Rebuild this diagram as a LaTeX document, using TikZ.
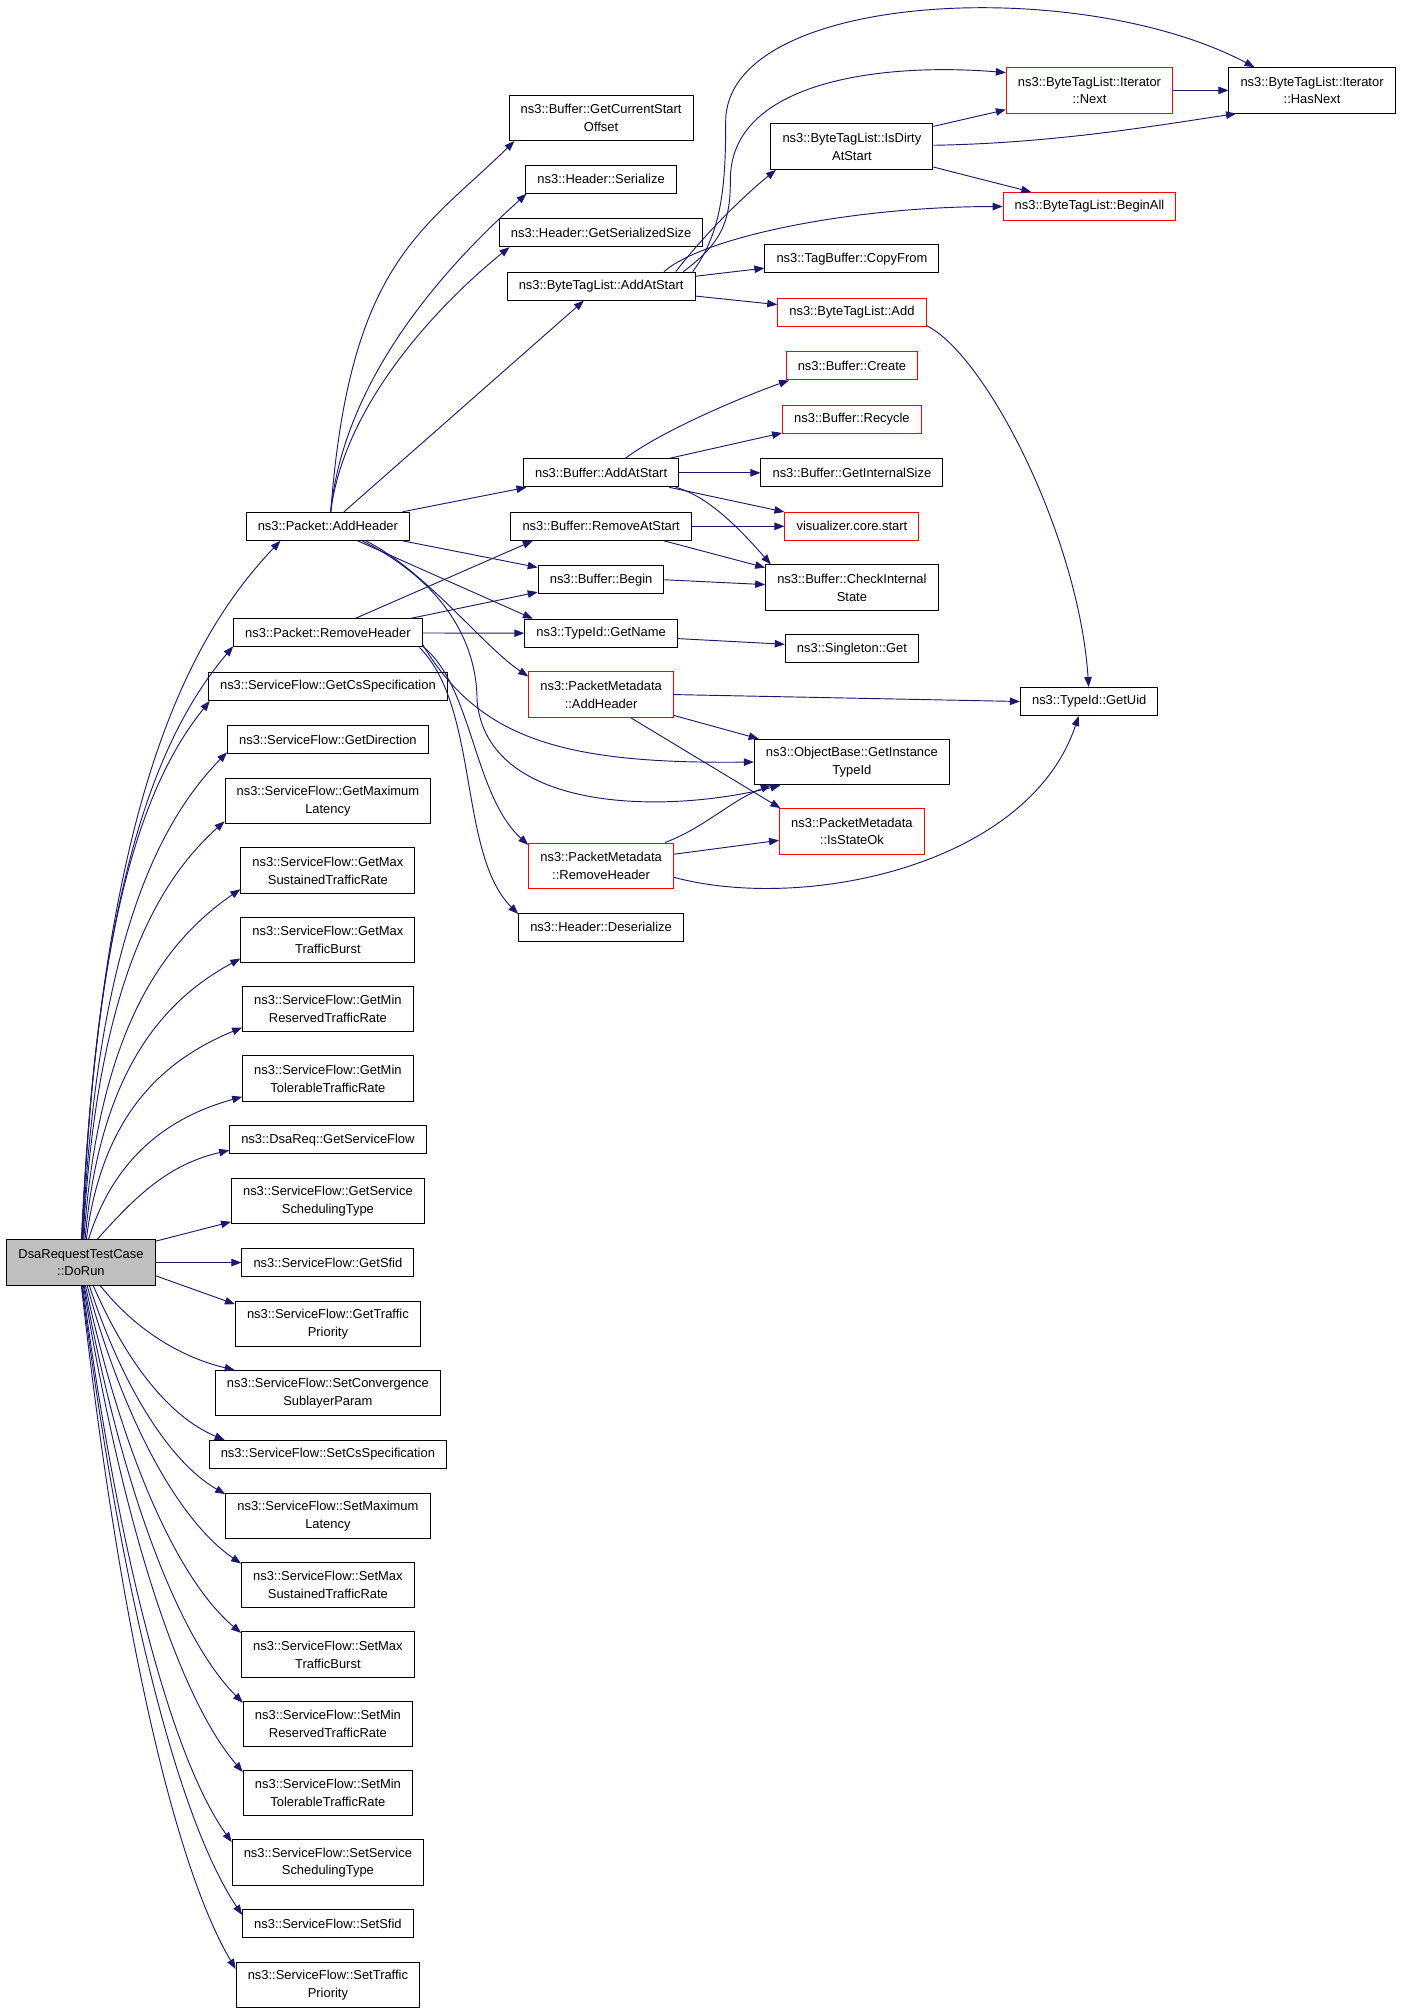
\documentclass[tikz,border=0pt]{standalone}
\usepackage{fontspec}
\setmainfont{Liberation Sans}
\usetikzlibrary{arrows.meta}
\definecolor{edgeblue}{HTML}{191970}
\definecolor{trunc}{HTML}{FF0000}
\definecolor{rootgray}{HTML}{BFBFBF}
\newcommand{\fnsize}{\fontsize{9.7pt}{13.4pt}\selectfont}
\begin{document}
\begin{tikzpicture}[x=0.75pt,y=-0.75pt,node distance=52pt,>={Triangle[length=7.5pt,width=5.6pt]}]
	\tikzstyle{fn} = [draw,rectangle,line width=0.75pt,inner xsep=8.7pt,inner ysep=2pt,minimum height=21pt,align=center,font=\fnsize]
	\tikzstyle{fn2} = [fn,minimum height=34.1pt]
	\tikzstyle{cut} = [draw=trunc]
	\tikzstyle{root} = [fill=rootgray]
	\tikzstyle{call} = [->,draw=edgeblue,line width=0.7pt]
	\useasboundingbox (0,0) rectangle (1403,2013);

	% first column: what DoRun calls
	\node (pah) [fn] at (327.9,526.3) {ns3::Packet::AddHeader};
	\node (prh) [fn,below of=pah,node distance=80pt] {ns3::Packet::RemoveHeader};
	\node (getcs) [fn,below of=prh,node distance=40.1pt] {ns3::ServiceFlow::GetCsSpecification};
	\node (getdir) [fn,below of=getcs,node distance=40.1pt] {ns3::ServiceFlow::GetDirection};
	\node (getmaxlat) [fn2,below of=getdir,node distance=46pt] {ns3::ServiceFlow::GetMaximum\\Latency};
	\node (getmaxsus) [fn2,below of=getmaxlat] {ns3::ServiceFlow::GetMax\\SustainedTrafficRate};
	\node (getmaxburst) [fn2,below of=getmaxsus] {ns3::ServiceFlow::GetMax\\TrafficBurst};
	\node (getminres) [fn2,below of=getmaxburst] {ns3::ServiceFlow::GetMin\\ReservedTrafficRate};
	\node (getmintol) [fn2,below of=getminres] {ns3::ServiceFlow::GetMin\\TolerableTrafficRate};
	\node (getsf) [fn,below of=getmintol,node distance=46pt] {ns3::DsaReq::GetServiceFlow};
	\node (getsched) [fn2,below of=getsf,node distance=46pt] {ns3::ServiceFlow::GetService\\SchedulingType};
	\node (getsfid) [fn,below of=getsched,node distance=46pt] {ns3::ServiceFlow::GetSfid};
	\node (gettp) [fn2,below of=getsfid,node distance=46pt] {ns3::ServiceFlow::GetTraffic\\Priority};
	\node (setconv) [fn2,below of=gettp] {ns3::ServiceFlow::SetConvergence\\SublayerParam};
	\node (setcs) [fn,below of=setconv,node distance=46pt] {ns3::ServiceFlow::SetCsSpecification};
	\node (setmaxlat) [fn2,below of=setcs,node distance=46pt] {ns3::ServiceFlow::SetMaximum\\Latency};
	\node (setmaxsus) [fn2,below of=setmaxlat] {ns3::ServiceFlow::SetMax\\SustainedTrafficRate};
	\node (setburst) [fn2,below of=setmaxsus] {ns3::ServiceFlow::SetMax\\TrafficBurst};
	\node (setminres) [fn2,below of=setburst] {ns3::ServiceFlow::SetMin\\ReservedTrafficRate};
	\node (setmintol) [fn2,below of=setminres] {ns3::ServiceFlow::SetMin\\TolerableTrafficRate};
	\node (setsched) [fn2,below of=setmintol] {ns3::ServiceFlow::SetService\\SchedulingType};
	\node (setsfid) [fn,below of=setsched,node distance=46pt] {ns3::ServiceFlow::SetSfid};
	\node (settp) [fn2,below of=setsfid,node distance=46pt] {ns3::ServiceFlow::SetTraffic\\Priority};
	\node (dr) [fn2,root,left of=getsfid,node distance=185.2pt] {DsaRequestTestCase\\::DoRun};

	% second column
	\node (rmas) [fn,right of=pah,node distance=204.9pt] {ns3::Buffer::RemoveAtStart};
	\node (baas) [fn,above of=rmas,node distance=40.1pt] {ns3::Buffer::AddAtStart};
	\node (begin) [fn,below of=rmas,node distance=40.1pt] {ns3::Buffer::Begin};
	\node (gn) [fn,below of=begin,node distance=40.1pt] {ns3::TypeId::GetName};
	\node (pmah) [fn2,cut,below of=gn,node distance=46pt] {ns3::PacketMetadata\\::AddHeader};
	\node (pmrh) [fn2,cut,below of=pmah,node distance=128.4pt] {ns3::PacketMetadata\\::RemoveHeader};
	\node (des) [fn,below of=pmrh,node distance=46pt] {ns3::Header::Deserialize};
	\node (btlaas) [fn,above of=baas,node distance=140pt] {ns3::ByteTagList::AddAtStart};
	\node (gss) [fn,above of=btlaas,node distance=40.1pt] {ns3::Header::GetSerializedSize};
	\node (ser) [fn,above of=gss,node distance=40.1pt] {ns3::Header::Serialize};
	\node (gcso) [fn2,above of=ser,node distance=46pt] {ns3::Buffer::GetCurrentStart\\Offset};

	% third column
	\node (vcs) [fn,cut,right of=rmas,node distance=188.1pt] {visualizer.core.start};
	\node (gis) [fn,above of=vcs,node distance=40.1pt] {ns3::Buffer::GetInternalSize};
	\node (rec) [fn,cut,above of=gis,node distance=40.1pt] {ns3::Buffer::Recycle};
	\node (create) [fn,cut,above of=rec,node distance=40.1pt] {ns3::Buffer::Create};
	\node (btladd) [fn,cut,above of=create,node distance=40.1pt] {ns3::ByteTagList::Add};
	\node (cpf) [fn,above of=btladd,node distance=40.1pt] {ns3::TagBuffer::CopyFrom};
	\node (idas) [fn2,above of=cpf,node distance=84.2pt] {ns3::ByteTagList::IsDirty\\AtStart};
	\node (cis) [fn2,below of=vcs,node distance=46pt] {ns3::Buffer::CheckInternal\\State};
	\node (sg) [fn,below of=cis,node distance=46pt] {ns3::Singleton::Get};
	\node (git) [fn2,below of=sg,node distance=84.8pt] {ns3::ObjectBase::GetInstance\\TypeId};
	\node (iso) [fn2,cut,below of=git] {ns3::PacketMetadata\\::IsStateOk};

	% right columns
	\node (next) [fn2,cut] at (1089.5,90.4) {ns3::ByteTagList::Iterator\\::Next};
	\node (hn) [fn2,right of=next,node distance=166.9pt] {ns3::ByteTagList::Iterator\\::HasNext};
	\node (ba) [fn,cut,below of=next,node distance=87.1pt] {ns3::ByteTagList::BeginAll};
	\node (uid) [fn] at (1089.2,701.5) {ns3::TypeId::GetUid};

	% calls from the test case
	\draw[call] (dr.89) .. controls +(20,-420) and +(-100,105) .. (pah.197);
	\draw[call] (dr.88) .. controls +(15,-356) and +(-75,89) .. (prh.188);
	\draw[call] (dr.87) .. controls +(13,-324) and +(-65,81) .. (getcs.187);
	\draw[call] (dr.86) .. controls +(14,-292) and +(-71,73) .. (getdir.187);
	\draw[call] (dr.85) .. controls +(14,-251) and +(-70,63) .. (getmaxlat.191);
	\draw[call] (dr.83) .. controls +(15,-210) and +(-77,53) .. (getmaxsus.192);
	\draw[call] (dr.80) .. controls +(15,-169) and +(-77,42) .. (getmaxburst.192);
	\draw[call] (dr.77) .. controls +(16,-127) and +(-77,32) .. (getminres.192);
	\draw[call] (dr.72) .. controls +(25,-80) and +(-76,21) .. (getmintol.192);
	\draw[call] (dr.55) .. controls +(40,-45) and +(-60,14) .. (getsf.186);
	\draw[call] (dr.16) -- (getsched.192);
	\draw[call] (dr.east) -- (getsfid.west);
	\draw[call] (dr.-10) -- (gettp.168);
	\draw[call] (dr.-50) .. controls +(34,43) and +(-55,-13) .. (setconv.166);
	\draw[call] (dr.-62) .. controls +(34,78) and +(-55,-23) .. (setcs.172);
	\draw[call] (dr.-70) .. controls +(34,104) and +(-54,-31) .. (setmaxlat.168);
	\draw[call] (dr.-75) .. controls +(38,139) and +(-61,-42) .. (setmaxsus.166);
	\draw[call] (dr.-79) .. controls +(38,174) and +(-62,-52) .. (setburst.166);
	\draw[call] (dr.-82) .. controls +(39,209) and +(-63,-63) .. (setminres.166);
	\draw[call] (dr.-84) .. controls +(40,243) and +(-63,-73) .. (setmintol.166);
	\draw[call] (dr.-86) .. controls +(37,278) and +(-59,-83) .. (setsched.168);
	\draw[call] (dr.-88) .. controls +(40,315) and +(-63,-94) .. (setsfid.174);
	\draw[call] (dr.-89) .. controls +(38,342) and +(-61,-103) .. (settp.170);

	% Packet::AddHeader
	\draw[call] (pah.79) .. controls +(19,-250) and +(-92,90) .. (gcso.195);
	\draw[call] (pah.79) .. controls +(15,-150) and +(-55,50) .. (ser.191);
	\draw[call] (pah.79) .. controls +(15,-120) and +(-50,40) .. (gss.189);
	\draw[call] (pah.42) -- (btlaas.220);
	\draw[call] (pah.11) -- (baas.191);
	\draw[call] (pah.-11) -- (begin.169);
	\draw[call] (pah.-26) -- (gn.168);
	\draw[call] (pah.-21) .. controls +(60,30) and +(-45,-30) .. (pmah.166);
	\draw[call] (pah.-23) .. controls +(80,40) and +(0,-60) .. ++(115,160) .. controls +(10,110) and +(-120,30) .. (git.198);

	% Packet::RemoveHeader
	\draw[call] (prh.28) -- (rmas.192);
	\draw[call] (prh.10) -- (begin.191);
	\draw[call] (prh.east) -- (gn.west);
	\draw[call] (prh.-7) .. controls +(57,95) and +(-190,2) .. (git.west);
	\draw[call] (prh.-8) .. controls +(50,40) and +(-55,-50) .. (pmrh.164);
	\draw[call] (prh.-9) .. controls +(60,60) and +(-60,-60) .. (des.171);

	% ByteTagList
	\draw[call] (btlaas.13) .. controls +(40,-35) and +(-150,0) .. (ba.west);
	\draw[call] (btlaas.11) .. controls +(35,-45) and +(-25,20) .. (idas.197);
	\draw[call] (btlaas.10) .. controls +(40,-30) and +(0,40) .. ++(47,-92) .. controls +(0,-100) and +(-120,-10) .. (next.168);
	\draw[call] (btlaas.9) .. controls +(30,-40) and +(0,60) .. ++(33,-150) .. controls +(0,-130) and +(-176,-93) .. (hn.158);
	\draw[call] (btlaas.6) -- (cpf.186);
	\draw[call] (btlaas.-6) -- (btladd.174);
	\draw[call] (idas.14) -- (next.193);
	\draw[call] (idas.1) .. controls +(120,-2) and +(-80,12) .. (hn.197);
	\draw[call] (idas.-14) -- (ba.166);
	\draw[call] (next.east) -- (hn.west);
	\draw[call] (btladd.-10) .. controls +(60,30) and +(-10,-150) .. (uid.92);

	% Buffer
	\draw[call] (baas.31) .. controls +(40,-30) and +(-35,12) .. (create.193);
	\draw[call] (baas.12) -- (rec.191);
	\draw[call] (baas.east) -- (gis.west);
	\draw[call] (baas.-12) -- (vcs.168);
	\draw[call] (baas.-11) .. controls +(30,8) and +(-35,-40) .. (cis.164);
	\draw[call] (rmas.east) -- (vcs.west);
	\draw[call] (rmas.-13) -- (cis.167);
	\draw[call] (begin.east) -- (cis.178);
	\draw[call] (gn.-4) -- (sg.176);

	% PacketMetadata
	\draw[call] (pmah.east) -- (uid.west);
	\draw[call] (pmah.-16) -- (git.166);
	\draw[call] (pmah.-38) -- (iso.162);
	\draw[call] (pmrh.20) .. controls +(40,-15) and +(-40,15) .. (git.196);
	\draw[call] (pmrh.9) -- (iso.187);
	\draw[call] (pmrh.-9) .. controls +(130,35) and +(-50,150) .. (uid.234);
\end{tikzpicture}
\end{document}
